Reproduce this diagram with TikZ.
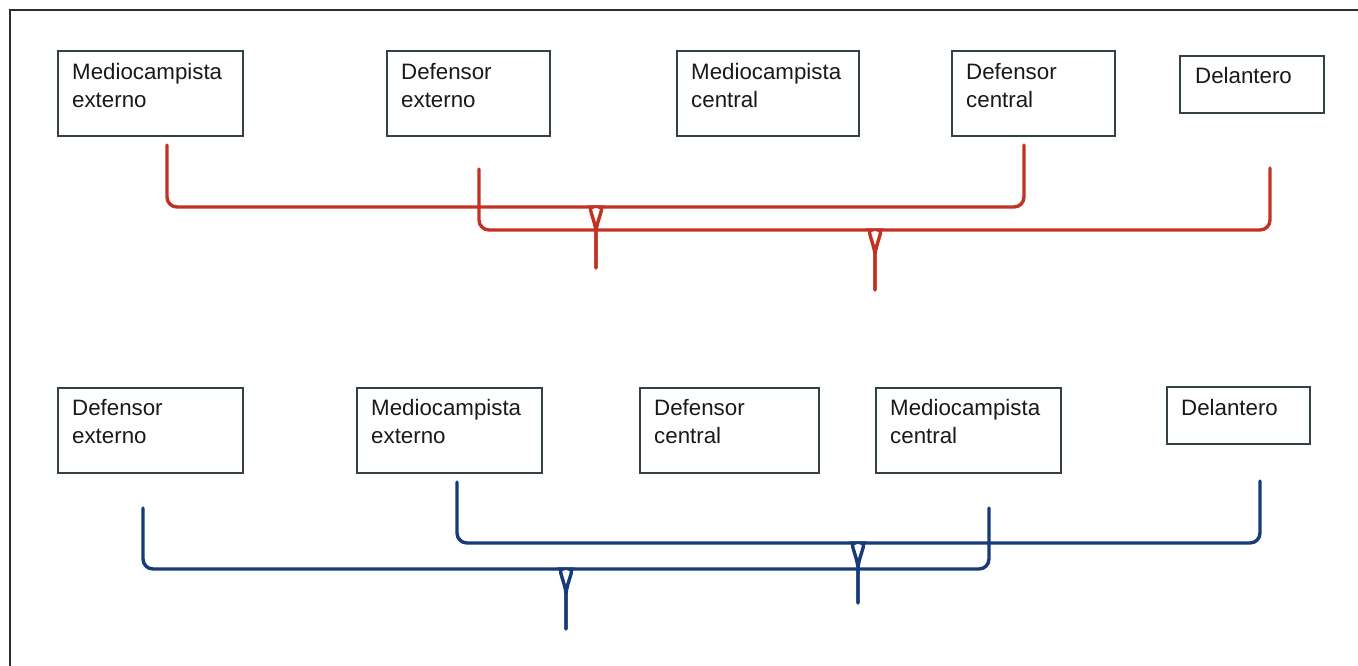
\documentclass[tikz,border=0pt]{standalone}
\usepackage{fontspec}
\setmainfont{Liberation Sans}
\usetikzlibrary{calc}
\definecolor{bracered}{RGB}{194,50,34}
\definecolor{braceblue}{RGB}{22,58,122}
\definecolor{boxline}{RGB}{52,66,72}
\definecolor{txt}{RGB}{25,25,25}
\definecolor{framec}{RGB}{45,45,45}
\tikzset{
  posbox/.style={draw=boxline, line width=1.8pt, fill=white, anchor=north west, inner sep=0pt},
  lbl/.style={anchor=north west, inner sep=0pt, align=left, text=txt,
    font=\fontsize{22.3pt}{28pt}\selectfont},
  redbrace/.style={draw=bracered, line width=3.4pt, line cap=round},
  bluebrace/.style={draw=braceblue, line width=3.4pt, line cap=round},
}
% half brace: #1 style, #2 free end, #3 tip point on the bar, #4 stem end, #5 side (-1 left, 1 right)
\newcommand\halfbrace[5]{%
  \draw[#1] (#2) [rounded corners=10pt] |- ($(#3)+(#5*13,0)$) [sharp corners]
    .. controls ($(#3)+(#5*9,0)$) and ($(#3)+(#5*2,10)$) .. ($(#3)+(0,24)$) -- (#4);}
\begin{document}
\begin{tikzpicture}[x=1pt,y=-1pt]
\useasboundingbox (0,0) rectangle (1358,666);
\draw[framec, line width=2pt] (9.5,666) -- (9.5,10.5) -- (1358,10.5);

% top row
\node[posbox, minimum width=185pt, minimum height=85pt] (b1) at (57,50) {};
\node[lbl] (b1t) at ([shift={(15,13)}]b1.north west) {Mediocampista\\externo};
\node[posbox, minimum width=163pt, minimum height=85pt] (b2) at (386,50) {};
\node[lbl] (b2t) at ([shift={(15,13)}]b2.north west) {Defensor\\externo};
\node[posbox, minimum width=182pt, minimum height=85pt] (b3) at (676,50) {};
\node[lbl] (b3t) at ([shift={(15,13)}]b3.north west) {Mediocampista\\central};
\node[posbox, minimum width=163pt, minimum height=85pt] (b4) at (951,50) {};
\node[lbl] (b4t) at ([shift={(15,13)}]b4.north west) {Defensor\\central};
\node[posbox, minimum width=144pt, minimum height=57pt] (b5) at (1179,55) {};
\node[lbl] (b5t) at ([shift={(16,12)}]b5.north west) {Delantero};

% bottom row
\node[posbox, minimum width=185pt, minimum height=85pt] (c1) at (57,387) {};
\node[lbl] (c1t) at ([shift={(15,12)}]c1.north west) {Defensor\\externo};
\node[posbox, minimum width=185pt, minimum height=85pt] (c2) at (356,387) {};
\node[lbl] (c2t) at ([shift={(15,12)}]c2.north west) {Mediocampista\\externo};
\node[posbox, minimum width=179pt, minimum height=85pt] (c3) at (639,387) {};
\node[lbl] (c3t) at ([shift={(15,12)}]c3.north west) {Defensor\\central};
\node[posbox, minimum width=185pt, minimum height=85pt] (c4) at (875,387) {};
\node[lbl] (c4t) at ([shift={(15,12)}]c4.north west) {Mediocampista\\central};
\node[posbox, minimum width=143pt, minimum height=57pt] (c5) at (1166,386) {};
\node[lbl] (c5t) at ([shift={(15,13)}]c5.north west) {Delantero};

% red braces
\coordinate (r1a) at (167,145);
\coordinate (r1b) at (1024,145);
\coordinate (r1t) at (596,207);
\coordinate (r1e) at (596,268);
\coordinate (r2a) at (479,169);
\coordinate (r2b) at (1270,168);
\coordinate (r2t) at (875,230);
\coordinate (r2e) at (875,290);
\halfbrace{redbrace}{r1a}{r1t}{r1e}{-1}
\halfbrace{redbrace}{r1b}{r1t}{r1e}{1}
\halfbrace{redbrace}{r2a}{r2t}{r2e}{-1}
\halfbrace{redbrace}{r2b}{r2t}{r2e}{1}

% blue braces
\coordinate (u1a) at (143,508);
\coordinate (u1b) at (989,508);
\coordinate (u1t) at (566,569);
\coordinate (u1e) at (566,629);
\coordinate (u2a) at (457,482);
\coordinate (u2b) at (1260,481);
\coordinate (u2t) at (858,543);
\coordinate (u2e) at (858,603);
\halfbrace{bluebrace}{u1a}{u1t}{u1e}{-1}
\halfbrace{bluebrace}{u1b}{u1t}{u1e}{1}
\halfbrace{bluebrace}{u2a}{u2t}{u2e}{-1}
\halfbrace{bluebrace}{u2b}{u2t}{u2e}{1}
\end{tikzpicture}
\end{document}
